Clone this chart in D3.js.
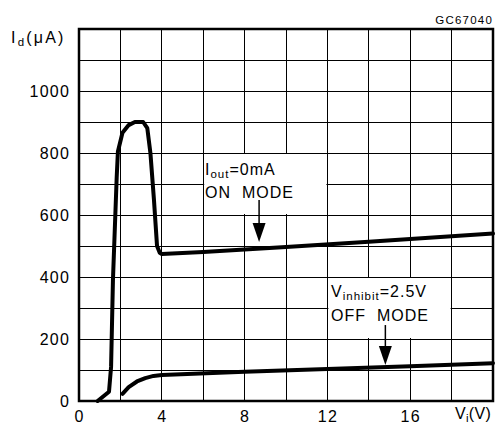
<!DOCTYPE html>
<html>
<head>
<meta charset="utf-8">
<script src="https://cdn.jsdelivr.net/npm/d3@7"></script>
<style>
  body { margin: 0; background: #fff; }
  text { font-family: "Liberation Sans", Arial, sans-serif; fill: #000; }
</style>
</head>
<body>
<svg id="chart" width="502" height="426"></svg>
<script>
// data (Vi in V, Id in uA)
const onV  = [0.9, 1.45, 1.55, 1.64, 1.82, 1.88, 2.1, 2.4, 2.7, 3.1, 3.3, 3.45, 3.62, 3.77, 3.9, 4.0, 6, 10, 14, 20];
const onI  = [0, 30, 110, 390, 720, 805, 865, 890, 900, 900, 880, 800, 650, 500, 478, 474, 481, 497, 514, 540];
const offV = [2.1, 2.4, 2.8, 3.2, 3.6, 4.0, 8, 12, 16, 20];
const offI = [23, 45, 63, 74, 81, 84, 94, 103, 112, 122];

const xTickLabels = [0, 4, 8, 12, 16];
const yTickLabels = [0, 200, 400, 600, 800, 1000];
const xGrid = d3.range(0, 21, 2);
const yGrid = d3.range(0, 1201, 100);

const plotLeft = 79, plotRight = 493, plotTop = 29, plotBottom = 401;

const svg = d3.select('#chart');

const x = d3.scaleLinear().domain([0, 20]).range([plotLeft, plotRight]);
const y = d3.scaleLinear().domain([0, 1200]).range([plotBottom, plotTop]);

// grid
svg.append('g').selectAll('line').data(xGrid).join('line')
  .attr('x1', d => x(d)).attr('x2', d => x(d))
  .attr('y1', plotTop).attr('y2', plotBottom)
  .attr('stroke', '#000').attr('stroke-width', 1).attr('shape-rendering', 'crispEdges');
svg.append('g').selectAll('line').data(yGrid).join('line')
  .attr('x1', plotLeft).attr('x2', plotRight)
  .attr('y1', d => y(d)).attr('y2', d => y(d))
  .attr('stroke', '#000').attr('stroke-width', 1).attr('shape-rendering', 'crispEdges');

// white label boxes hide the grid behind the notes
const boxes = [
  {v0: 6, v1: 12, i0: 600, i1: 800},
  {v0: 12, v1: 18, i0: 200, i1: 400}
];
svg.append('g').selectAll('rect').data(boxes).join('rect')
  .attr('x', d => x(d.v0) + 1).attr('y', d => y(d.i1) + 1)
  .attr('width', d => x(d.v1) - x(d.v0) - 2)
  .attr('height', d => y(d.i0) - y(d.i1) - 2)
  .attr('fill', '#fff');

// frame
svg.append('rect')
  .attr('x', plotLeft).attr('y', plotTop)
  .attr('width', plotRight - plotLeft).attr('height', plotBottom - plotTop)
  .attr('fill', 'none').attr('stroke', '#000').attr('stroke-width', 2.5);

// axes (labels only)
const yAxis = d3.axisLeft(y).tickValues(yTickLabels).tickFormat(d3.format('d')).tickSize(0).tickPadding(9);
const xAxis = d3.axisBottom(x).tickValues(xTickLabels).tickFormat(d3.format('d')).tickSize(0).tickPadding(10);
const ya = svg.append('g').attr('transform', `translate(${plotLeft},0)`).call(yAxis);
const xa = svg.append('g').attr('transform', `translate(0,${plotBottom})`).call(xAxis);
[ya, xa].forEach(g => {
  g.select('.domain').remove();
  g.selectAll('text')
    .style('font-family', '"Liberation Sans", Arial, sans-serif')
    .attr('font-size', 16).attr('letter-spacing', 1.2).attr('fill', '#000');
});

// curves
const line = d3.line().x(d => x(d[0])).y(d => y(d[1]));
const series = [d3.zip(onV, onI), d3.zip(offV, offI)];
svg.append('g').selectAll('path').data(series).join('path')
  .attr('d', line)
  .attr('fill', 'none').attr('stroke', '#000')
  .attr('stroke-width', 4).attr('stroke-linejoin', 'round').attr('stroke-linecap', 'round');

// arrows
const arrows = [{v: 8.7, i: 513, len: 42}, {v: 14.8, i: 116, len: 40}];
const ag = svg.append('g');
arrows.forEach(a => {
  const ax = x(a.v), ay = y(a.i);
  ag.append('line').attr('x1', ax).attr('x2', ax).attr('y1', ay - a.len).attr('y2', ay - 14)
    .attr('stroke', '#000').attr('stroke-width', 1.5);
  ag.append('path').attr('d', `M${ax - 6.5},${ay - 19}L${ax + 6.5},${ay - 19}L${ax},${ay}Z`).attr('fill', '#000');
});

// notes
function note(px, py, main, sub, rest, size, spacing) {
  const t = svg.append('text').attr('x', px).attr('y', py).attr('font-size', size)
    .attr('letter-spacing', spacing == null ? 1 : spacing);
  t.append('tspan').text(main);
  if (sub) t.append('tspan').attr('font-size', size * 0.72).attr('dy', 3).text(sub);
  if (rest) t.append('tspan').attr('dy', sub ? -3 : 0).text(rest);
  return t;
}
note(205, 175, 'I', 'out', '=0mA', 16);
note(205, 198, 'ON\u00a0\u00a0MODE', null, null, 16);
note(331, 297, 'V', 'inhibit', '=2.5V', 16);
note(331, 321, 'OFF\u00a0\u00a0MODE', null, null, 16);

// axis titles
note(11, 43, 'I', 'd', '(\u03bcA)', 16, 2.2);
note(455, 419, 'V', 'i', '(V)', 16, 0.3);

// figure code
svg.append('text').attr('x', 493).attr('y', 24).attr('text-anchor', 'end')
  .attr('font-size', 11.5).attr('letter-spacing', 1.2).text('GC67040');
</script>
</body>
</html>
